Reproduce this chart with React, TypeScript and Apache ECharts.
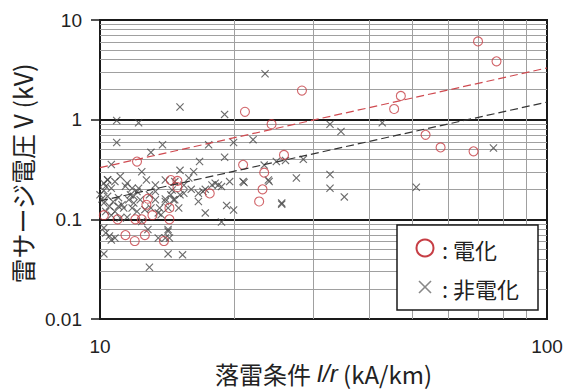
import React, { useEffect, useRef } from "react";
import * as echarts from "echarts";

// 電化 (electrified) observations: [I/r (kA/km), V (kV)]
const electrified: [number, number][] = [
  [70.1, 6.1], [77.1, 3.85], [28.3, 1.96], [47.1, 1.73], [45.5, 1.28], [21.1, 1.2],
  [24.2, 0.9], [53.5, 0.705], [57.8, 0.527], [68.5, 0.481], [25.8, 0.443], [12.1, 0.38],
  [20.9, 0.352], [23.3, 0.294], [14.4, 0.248], [14.9, 0.243], [14.9, 0.21], [23.1, 0.2],
  [17.6, 0.182], [12.8, 0.161], [12.7, 0.14], [22.7, 0.151], [14.3, 0.13], [10.2, 0.11],
  [13.1, 0.11], [10.95, 0.1], [12.0, 0.1], [12.4, 0.1], [14.3, 0.1], [11.4, 0.0695],
  [12.6, 0.0695], [11.96, 0.0606], [13.9, 0.0606],
];

// 非電化 (non-electrified) observations
const nonElectrified: [number, number][] = [
  [23.4, 2.89], [15.1, 1.34], [19.0, 1.13], [10.9, 0.98], [12.2, 0.93], [32.7, 0.9], [42.8, 0.93], [34.6, 0.76],
  [10.9, 0.59], [19.9, 0.59], [22.0, 0.63], [13.8, 0.56], [17.5, 0.56], [13.0, 0.47], [75.9, 0.52], [19.0, 0.42],
  [10.6, 0.355], [16.7, 0.38], [23.3, 0.35], [24.8, 0.38], [26.0, 0.39], [28.5, 0.4], [12.4, 0.3], [15.1, 0.31],
  [16.2, 0.3], [15.8, 0.26], [11.1, 0.27], [10.2, 0.23], [10.4, 0.25], [10.6, 0.205], [11.5, 0.23], [11.8, 0.205],
  [11.9, 0.17], [12.1, 0.19], [12.7, 0.248], [13.3, 0.19], [13.3, 0.157], [14.5, 0.197], [14.6, 0.157], [15.1, 0.176],
  [15.4, 0.183], [15.0, 0.13], [16.6, 0.183], [16.6, 0.151], [17.2, 0.2], [17.8, 0.221], [18.1, 0.23], [18.4, 0.221],
  [18.7, 0.213], [19.5, 0.239], [17.2, 0.116], [19.2, 0.138], [19.9, 0.124], [20.9, 0.239], [23.8, 0.248], [25.5, 0.146],
  [18.7, 0.094], [10.0, 0.176], [10.2, 0.146], [10.3, 0.12], [10.5, 0.135], [10.8, 0.12], [11.0, 0.135], [11.1, 0.103],
  [11.3, 0.13], [11.8, 0.13], [11.9, 0.146], [12.6, 0.125], [13.0, 0.13], [13.7, 0.111], [13.6, 0.13], [14.0, 0.151],
  [14.2, 0.13], [12.8, 0.079], [10.2, 0.082], [10.3, 0.073], [10.5, 0.068], [10.8, 0.065], [13.5, 0.065], [14.2, 0.076],
  [14.3, 0.065], [10.2, 0.045], [14.2, 0.045], [15.3, 0.044], [12.9, 0.033], [32.7, 0.282], [32.7, 0.205], [35.2, 0.168],
  [27.5, 0.26], [51.0, 0.21], [25.5, 0.142], [23.9, 0.24], [21.0, 0.234],
  [10.4, 0.248], [10.3, 0.215], [10.8, 0.239], [10.2, 0.195], [11.4, 0.215], [12.2, 0.205], [13.3, 0.221], [14.0, 0.248],
  [14.7, 0.239], [11.7, 0.176], [11.6, 0.157], [12.3, 0.157], [12.9, 0.176], [14.0, 0.16], [14.4, 0.176], [14.7, 0.157],
  [13.5, 0.116], [12.1, 0.12], [10.1, 0.16], [10.4, 0.17], [10.7, 0.15], [11.0, 0.165], [11.2, 0.14], [10.6, 0.11],
  [14.2, 0.079], [14.0, 0.065], [10.6, 0.062], [15.4, 0.22], [16.0, 0.2], [17.0, 0.19], [11.5, 0.105], [12.4, 0.095],
];

// Trend lines (endpoints)
const electrifiedTrend: [number, number][] = [[10, 0.33], [100, 3.3]];
const nonElectrifiedTrend: [number, number][] = [[10, 0.153], [100, 1.5]];

// Axis ticks / grid
const xTickLabels = ["10", "100"];
const yTickLabels = ["0.01", "0.1", "1", "10"];
const xMinorGrid = [20, 30, 40, 50, 60, 70, 80, 90];
const yMinorGrid = [
  0.02, 0.03, 0.04, 0.05, 0.06, 0.07, 0.08, 0.09,
  0.2, 0.3, 0.4, 0.5, 0.6, 0.7, 0.8, 0.9,
  2, 3, 4, 5, 6, 7, 8, 9,
];

const RED = "#c63d44";
const CROSS = "path://M0,1L1,0L5,4L9,0L10,1L6,5L10,9L9,10L5,6L1,10L0,9L4,5Z";
const LATIN = "'Liberation Sans', Arial, sans-serif";
const CJK = "'Noto Sans CJK JP', 'Liberation Sans', sans-serif";

export default function App() {
  const ref = useRef<HTMLDivElement>(null);
  useEffect(() => {
    if (!ref.current) return;
    const chart = echarts.init(ref.current, undefined, { renderer: "svg" });
    chart.setOption({
      animation: false,
      backgroundColor: "#fff",
      grid: {
        left: 100, top: 20, width: 447, height: 302,
        show: true, borderColor: "#1a1a1a", borderWidth: 2, backgroundColor: "transparent",
      },
      xAxis: {
        type: "log", logBase: 10, min: 10, max: 100,
        axisLine: { show: false },
        axisTick: { show: false },
        splitLine: { show: false },
        axisLabel: {
          margin: 18, fontSize: 19, color: "#222", fontFamily: LATIN,
          formatter: (v: number) => xTickLabels[Math.round(Math.log10(v)) - 1],
        },
        name: "落雷条件 {i|I/r} (kA/km)",
        nameLocation: "middle",
        nameGap: 42,
        nameTextStyle: {
          fontSize: 24, color: "#222", fontFamily: CJK,
          rich: { i: { fontSize: 24, fontStyle: "italic", fontFamily: LATIN, color: "#222" } },
        },
      },
      yAxis: {
        type: "log", logBase: 10, min: 0.01, max: 10,
        axisLine: { show: false },
        axisTick: { show: true, length: 9, lineStyle: { color: "#1a1a1a", width: 1.5 } },
        splitLine: { show: true, lineStyle: { color: "#1a1a1a", width: 2.2 } },
        axisLabel: {
          margin: 18, fontSize: 19, color: "#222", fontFamily: LATIN,
          formatter: (v: number) => yTickLabels[Math.round(Math.log10(v)) + 2],
        },
        name: "雷サージ電圧 V (kV)",
        nameLocation: "middle",
        nameGap: 62,
        nameTextStyle: { fontSize: 25, color: "#222", fontFamily: CJK, padding: [0, 8, 0, 0] },
      },
      series: [
        {
          name: "grid",
          type: "line",
          data: [],
          z: 1,
          markLine: {
            silent: true,
            z: 1,
            symbol: ["none", "none"],
            label: { show: false },
            lineStyle: { color: "#a0a0a0", width: 1, type: "solid" },
            data: [
              ...xMinorGrid.map((v) => ({ xAxis: v })),
              ...yMinorGrid.map((v) => ({ yAxis: v })),
            ],
          },
        },
        {
          name: "非電化",
          type: "scatter",
          data: nonElectrified,
          symbol: CROSS,
          symbolSize: 8,
          itemStyle: { color: "#474747" },
          z: 3,
        },
        {
          name: "電化",
          type: "scatter",
          data: electrified,
          symbol: "circle",
          symbolSize: 9,
          itemStyle: { color: "transparent", borderColor: RED, borderWidth: 1.1 },
          z: 4,
        },
        {
          name: "電化 trend",
          type: "line",
          data: electrifiedTrend,
          showSymbol: false,
          lineStyle: { color: "#cf4a50", width: 1.2, type: [8, 4] },
          z: 5,
        },
        {
          name: "非電化 trend",
          type: "line",
          data: nonElectrifiedTrend,
          showSymbol: false,
          lineStyle: { color: "#333", width: 1.2, type: [8, 4] },
          z: 5,
        },
      ],
      graphic: [
        {
          type: "rect", z: 100,
          shape: { x: 397, y: 225, width: 141, height: 85 },
          style: { fill: "#fff", stroke: "#1a1a1a", lineWidth: 1.5 },
        },
        {
          type: "circle", z: 101,
          shape: { cx: 425, cy: 248, r: 8.5 },
          style: { fill: "transparent", stroke: RED, lineWidth: 2 },
        },
        {
          type: "line", z: 101,
          shape: { x1: 419, y1: 281, x2: 431, y2: 293 },
          style: { stroke: "#888", lineWidth: 1.6 },
        },
        {
          type: "line", z: 101,
          shape: { x1: 419, y1: 293, x2: 431, y2: 281 },
          style: { stroke: "#888", lineWidth: 1.6 },
        },
        {
          type: "text", z: 101, x: 442, y: 249,
          style: { text: ": 電化", font: `22px ${CJK}`, fill: "#222", textVerticalAlign: "middle" },
        },
        {
          type: "text", z: 101, x: 442, y: 288,
          style: { text: ": 非電化", font: `22px ${CJK}`, fill: "#222", textVerticalAlign: "middle" },
        },
      ],
    });
    return () => chart.dispose();
  }, []);
  return (
    <div
      ref={ref}
      style={{ position: "fixed", left: 0, top: 0, width: 569, height: 390, background: "#fff" }}
    />
  );
}
